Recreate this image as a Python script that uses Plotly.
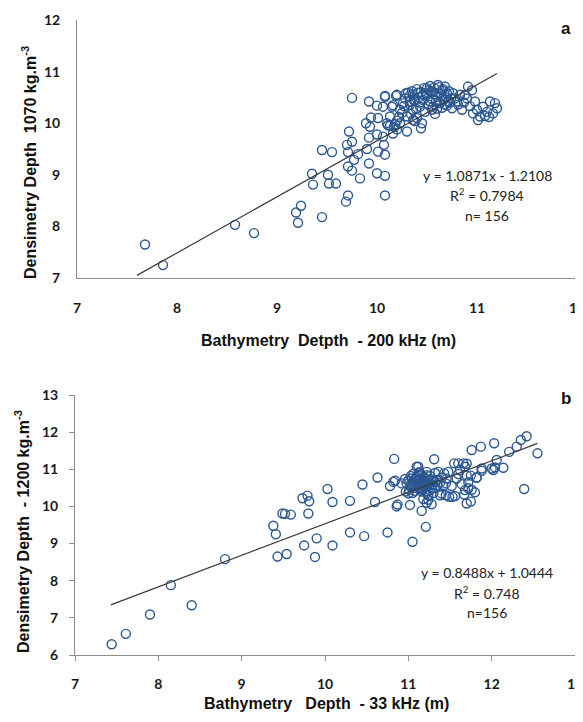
import plotly.graph_objects as go

# ---------------- Panel a data ----------------
a_x = [7.68, 7.86, 8.58, 8.77, 9.19, 9.21, 9.24, 9.45, 9.35, 9.36, 9.51, 9.52, 9.59,
       9.45, 9.55, 9.69, 9.71, 10.08, 9.70, 9.75, 9.71, 9.81, 9.77, 9.71, 9.75, 9.83,
       9.72, 9.75, 9.92, 10.00, 10.08, 9.90, 10.01, 10.07, 10.08, 9.89, 9.94, 10.01,
       9.93, 9.92, 10.00, 9.92, 10.00, 10.08, 10.19, 10.15, 10.11, 10.17,
       10.13, 10.18, 10.20,
       10.08, 10.20, 10.31, 10.36, 10.41, 10.53, 10.61, 10.56, 10.65, 10.70, 10.60,
       10.50, 10.46, 10.33, 10.26, 10.16, 10.06, 10.23, 10.36, 10.43, 10.30, 10.36,
       10.45, 10.23, 10.13, 10.10, 10.16, 10.06, 10.75, 10.80, 10.85, 10.91, 10.95,
       10.90, 10.98, 11.00, 10.96, 11.03, 11.01, 11.10, 11.13, 11.18, 11.20, 11.16,
       10.83, 10.76, 10.71, 10.63, 10.56, 10.53, 10.68, 10.50,
       10.28, 10.32, 10.35, 10.38, 10.40, 10.42, 10.44, 10.47, 10.49, 10.52, 10.55,
       10.57, 10.58, 10.62, 10.64, 10.66, 10.67, 10.72, 10.74, 10.27, 10.29, 10.33,
       10.37, 10.39, 10.43, 10.46, 10.51, 10.54, 10.59, 10.63, 10.69, 10.73, 10.78,
       10.81, 10.87, 10.93, 11.06, 11.08, 10.25, 10.34, 10.40, 10.48, 10.55, 10.60,
       10.65, 10.70, 10.44, 10.30, 10.20, 10.22, 10.38, 10.58, 10.68, 10.88, 11.12]
a_y = [7.65, 7.25, 8.03, 7.87, 8.27, 8.07, 8.40, 8.18, 9.02, 8.81, 9.00, 8.83, 8.83,
       9.48, 9.44, 8.48, 8.60, 8.60, 9.58, 9.64, 9.44, 9.40, 9.29, 9.16, 9.08, 8.93,
       9.84, 10.49, 9.22, 9.03, 8.98, 9.50, 9.45, 9.58, 9.39, 10.00, 10.11, 10.10,
       9.93, 9.72, 9.78, 10.42, 10.34, 10.51, 10.53, 10.32, 9.96, 9.93,
       9.95, 9.98, 10.05,
       10.53, 10.55, 10.59, 10.55, 10.59, 10.72, 10.74, 10.61, 10.64, 10.57, 10.51,
       10.55, 10.45, 10.42, 10.39, 10.35, 10.32, 10.26, 10.26, 10.32, 10.13, 10.06,
       10.00, 10.00, 10.13, 10.00, 9.80, 9.74, 10.29, 10.42, 10.26, 10.71, 10.64,
       10.48, 10.42, 10.26, 10.19, 10.13, 10.06, 10.22, 10.42, 10.39, 10.29, 10.19,
       10.55, 10.58, 10.42, 10.39, 10.32, 10.42, 10.71, 10.68,
       10.48, 10.52, 10.62, 10.45, 10.66, 10.50, 10.60, 10.68, 10.58, 10.64, 10.47,
       10.69, 10.56, 10.70, 10.52, 10.66, 10.46, 10.62, 10.48, 10.33, 10.58, 10.36,
       10.44, 10.28, 10.40, 10.55, 10.36, 10.60, 10.44, 10.57, 10.50, 10.40, 10.48,
       10.36, 10.40, 10.33, 10.32, 10.14, 10.20, 10.18, 10.10, 10.22, 10.26, 10.28,
       10.30, 10.34, 9.90, 9.84, 9.88, 10.12, 10.04, 10.18, 10.36, 10.55, 10.12]

# ---------------- Panel b data ----------------
b_x = [7.44, 7.61, 7.90, 8.15, 8.40, 8.80, 9.38, 9.41, 9.43, 9.54, 9.49, 9.52, 9.59,
       9.73, 9.79, 9.81, 9.80, 10.03, 10.09, 10.30, 10.45, 9.75, 9.90, 9.88, 10.09,
       10.30, 10.47, 10.63, 10.60, 10.83, 10.78, 10.87, 11.02, 11.16, 11.05, 11.21,
       11.31, 10.75,
       11.76, 11.87, 12.03, 12.21, 12.30, 12.35, 12.42, 12.55, 12.39, 12.06, 12.02,
       12.14, 12.04, 11.88, 11.82, 11.75, 11.62, 11.68, 11.60, 11.70, 11.68, 11.72,
       11.80, 11.70, 11.67, 11.53, 11.56, 11.45, 11.40, 11.48, 11.46, 11.58, 11.36,
       11.32, 11.40, 11.10, 11.22, 10.84, 10.97, 11.05, 11.22, 11.30, 11.18, 11.24,
       11.14, 10.86, 11.22, 11.28, 11.38, 11.49, 11.75, 11.76, 12.00, 10.82, 10.96,
       10.92, 11.12, 11.43, 11.55, 11.66, 11.60, 11.70, 11.82, 11.88,
       10.98, 11.00, 11.02, 11.04, 11.05, 11.06, 11.08, 11.09, 11.10, 11.11, 11.12,
       11.13, 11.14, 11.15, 11.16, 11.17, 11.18, 11.19, 11.20, 11.21, 11.23, 11.25,
       11.27, 11.29, 11.32, 11.34, 11.03, 11.07, 11.09, 11.12, 11.15, 11.18, 11.20,
       11.24, 11.26, 11.28, 11.01, 11.06, 11.11, 11.13, 11.17, 11.22, 11.30, 11.35,
       11.38, 11.42, 11.00, 11.08, 11.16, 11.24, 11.33, 11.45, 11.52, 11.64, 11.72,
       11.04, 11.14, 11.26]
b_y = [6.29, 6.57, 7.09, 7.88, 7.34, 8.58, 9.48, 9.25, 8.65, 8.72, 9.81, 9.80, 9.78,
       10.22, 10.29, 10.14, 9.81, 10.47, 10.12, 10.15, 10.59, 8.95, 9.14, 8.64, 8.95,
       9.30, 9.20, 10.78, 10.12, 11.28, 10.55, 10.05, 10.04, 9.88, 9.05, 9.45,
       11.27, 9.30,
       11.52, 11.61, 11.70, 11.47, 11.61, 11.79, 11.89, 11.43, 10.47, 11.25, 10.98,
       11.04, 11.05, 11.02, 10.78, 10.83, 10.98, 11.07, 11.16, 11.15, 10.44, 10.49,
       10.38, 10.08, 10.32, 10.26, 10.28, 10.30, 10.35, 10.93, 10.75, 10.75, 10.93,
       10.90, 10.78, 11.07, 10.93, 10.69, 10.40, 10.36, 10.36, 10.36, 10.20, 10.18,
       10.46, 10.00, 10.10, 10.06, 10.30, 10.26, 10.13, 10.45, 11.02, 10.66, 10.74,
       10.62, 11.07, 10.89, 11.16, 11.16, 10.87, 10.83, 10.78, 10.96,
       10.62, 10.70, 10.55, 10.75, 10.64, 10.58, 10.72, 10.66, 10.80, 10.60, 10.68,
       10.52, 10.74, 10.63, 10.57, 10.70, 10.66, 10.60, 10.76, 10.54, 10.69, 10.62,
       10.73, 10.58, 10.66, 10.71, 10.82, 10.50, 10.76, 10.84, 10.49, 10.80, 10.52,
       10.60, 10.82, 10.48, 10.45, 10.88, 10.68, 10.92, 10.46, 10.84, 10.70, 10.58,
       10.64, 10.55, 10.35, 10.42, 10.40, 10.30, 10.50, 10.62, 10.55, 10.60, 10.65,
       10.52, 10.90, 10.44]

# Regression results shown on the chart
a_slope, a_intercept, a_r2, a_n = 1.0871, -1.2108, 0.7984, 156
b_slope, b_intercept, b_r2, b_n = 0.8488, 1.0444, 0.748, 156
a_fit_x = [7.6, 11.2]
b_fit_x = [7.43, 12.55]

a_xticks = [7, 8, 9, 10, 11, 12]
a_yticks = [7, 8, 9, 10, 11, 12]
b_xticks = [7, 8, 9, 10, 11, 12, 13]
b_yticks = [6, 7, 8, 9, 10, 11, 12, 13]

# page has an 8px body margin; figure is sized so the page does not overflow
OFF = 8
W, H = 583 - OFF, 722 - 2 * OFF


def px(x):
    return (x - OFF) / W


def py(y):
    return 1 - (y - OFF) / H


MARK = "#2B5791"
LINE = "#3a3a3a"
AXC = "#8c8c8c"
TICKFONT = dict(family="Lato, Arial", size=14, color="#1a1a1a", weight="bold")
TITLEFONT = dict(family="Liberation Sans, Arial", size=16, color="#111111")

fig = go.Figure()
marker = dict(symbol="circle-open", size=9, color=MARK, line=dict(width=1.4, color=MARK))

fig.add_trace(go.Scatter(x=a_x, y=a_y, mode="markers", marker=marker,
                         xaxis="x", yaxis="y", showlegend=False, cliponaxis=False))
fig.add_trace(go.Scatter(x=a_fit_x, y=[a_slope * v + a_intercept for v in a_fit_x],
                         mode="lines", line=dict(color=LINE, width=1.2),
                         xaxis="x", yaxis="y", showlegend=False))
fig.add_trace(go.Scatter(x=b_x, y=b_y, mode="markers", marker=marker,
                         xaxis="x2", yaxis="y2", showlegend=False, cliponaxis=False))
fig.add_trace(go.Scatter(x=b_fit_x, y=[b_slope * v + b_intercept for v in b_fit_x],
                         mode="lines", line=dict(color=LINE, width=1.2),
                         xaxis="x2", yaxis="y2", showlegend=False))

common = dict(showgrid=False, zeroline=False, showline=True, linecolor=AXC,
              linewidth=1, tickfont=TICKFONT, automargin=False,
              ticklabeloverflow="allow")

fig.update_layout(
    width=W, height=H, margin=dict(l=0, r=0, t=0, b=0, autoexpand=False),
    paper_bgcolor="white", plot_bgcolor="white",
    xaxis=dict(domain=[px(77), px(577)], range=[7, 12], tickvals=a_xticks,
               ticks="", ticklabelstandoff=17, anchor="y", **common),
    yaxis=dict(domain=[py(278), py(20)], range=[7, 12], tickvals=a_yticks,
               ticks="", ticklabelstandoff=13, anchor="x", **common),
    xaxis2=dict(domain=[px(75), px(575)], range=[7, 13], tickvals=b_xticks,
                ticks="outside", ticklen=5, tickcolor=AXC, ticklabelstandoff=11,
                anchor="y2", **common),
    yaxis2=dict(domain=[py(655), py(395)], range=[6, 13], tickvals=b_yticks,
                ticks="outside", ticklen=5, tickcolor=AXC, ticklabelstandoff=8,
                anchor="x2", **common),
)


def note(text, x, y, font, angle=0):
    return dict(text=text, x=px(x), y=py(y), xref="paper", yref="paper",
                xanchor="center", yanchor="middle", align="center",
                showarrow=False, textangle=angle, font=font)


ann = []
# axis titles
ann.append(note("<b>Bathymetry  Detpth  - 200 kHz (m)</b>", 328, 340, TITLEFONT))
ann.append(note("<b>Densimetry Depth  1070 kg.m<sup>-3</sup></b>", 29, 163, TITLEFONT, -90))
ann.append(note("<b>Bathymetry   Depth  - 33 kHz (m)</b>", 326, 703, TITLEFONT))
ann.append(note("<b>Densimetry Depth  - 1200 kg.m<sup>-3</sup></b>", 22, 532, TITLEFONT, -90))
# panel letters
letterfont = dict(family="Liberation Sans, Arial", size=17, color="#111")
ann.append(note("<b>a</b>", 566, 28, letterfont))
ann.append(note("<b>b</b>", 566, 398, letterfont))
# equations
eqfont = dict(family="Lato, Arial", size=14, color="#222222")
a_lines = [f"y = {a_slope}x - {abs(a_intercept)}", f"R<sup>2</sup> = {a_r2}", f"n= {a_n}"]
b_lines = [f"y = {b_slope}x + {b_intercept}", f"R<sup>2</sup> = {b_r2}", f"n={b_n}"]
for i, t in enumerate(a_lines):
    ann.append(note(t, 487, 175 + 20 * i, eqfont))
for i, t in enumerate(b_lines):
    ann.append(note(t, 487, 572 + 20 * i, eqfont))
fig.update_layout(annotations=ann)

fig.write_html("out.html")
